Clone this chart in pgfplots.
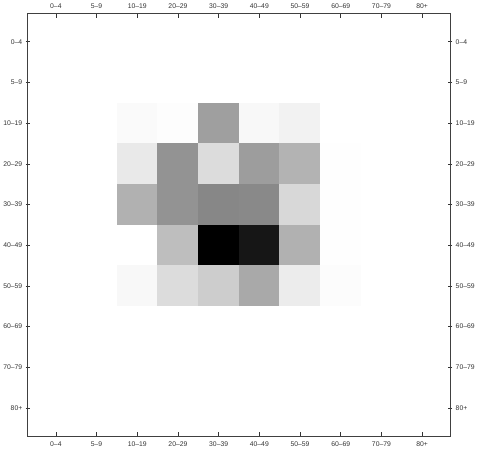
\documentclass[border=0pt]{standalone}
\usepackage{pgfplots}
\pgfplotsset{compat=1.18}
\usepackage{fontspec}
\setmainfont{Liberation Sans}
\begin{document}
\begin{tikzpicture}
\pgfplotsset{
  common/.style={
    width=422pt, height=422pt, scale only axis,
    xmin=-0.69, xmax=9.69, ymin=-0.69, ymax=9.69,
    y dir=reverse,
    xtick={0,...,9}, ytick={0,...,9},
    xticklabels={0–4,5–9,10–19,20–29,30–39,40–49,50–59,60–69,70–79,80+},
    yticklabels={0–4,5–9,10–19,20–29,30–39,40–49,50–59,60–69,70–79,80+},
    tick style={black!80, line width=0.6pt},
    major tick length=4pt,
    axis line style={black!75, line width=0.9pt},
    tick label style={font=\fontsize{6.8}{8}\selectfont, text=black!80},
    /pgf/number format/assume math mode=true,
    xtick align=inside, ytick align=center,
    xticklabel shift=2pt,
  }
}
\begin{axis}[common,
  xtick pos=both, ytick pos=both,
  xticklabel pos=bottom, yticklabel pos=left,
  colormap={bw}{rgb255(0cm)=(255,255,255); rgb255(1cm)=(0,0,0)},
  point meta min=0, point meta max=255,
]
\addplot[matrix plot*, mesh/cols=10, point meta=explicit] table[meta=c] {
x y c
0 0 0
1 0 0
2 0 0
3 0 0
4 0 0
5 0 0
6 0 0
7 0 0
8 0 0
9 0 0
0 1 0
1 1 0
2 1 0
3 1 0
4 1 0
5 1 0
6 1 0
7 1 0
8 1 0
9 1 0
0 2 0
1 2 0
2 2 5
3 2 2
4 2 95
5 2 7
6 2 13
7 2 0
8 2 0
9 2 0
0 3 0
1 3 0
2 3 22
3 3 107
4 3 35
5 3 97
6 3 75
7 3 1
8 3 0
9 3 0
0 4 0
1 4 0
2 4 77
3 4 107
4 4 119
5 4 117
6 4 39
7 4 1
8 4 0
9 4 0
0 5 0
1 5 0
2 5 0
3 5 65
4 5 255
5 5 231
6 5 77
7 5 1
8 5 0
9 5 0
0 6 0
1 6 0
2 6 7
3 6 35
4 6 50
5 6 85
6 6 19
7 6 3
8 6 0
9 6 0
0 7 0
1 7 0
2 7 0
3 7 0
4 7 0
5 7 0
6 7 0
7 7 0
8 7 0
9 7 0
0 8 0
1 8 0
2 8 0
3 8 0
4 8 0
5 8 0
6 8 0
7 8 0
8 8 0
9 8 0
0 9 0
1 9 0
2 9 0
3 9 0
4 9 0
5 9 0
6 9 0
7 9 0
8 9 0
9 9 0
};
\end{axis}
\begin{axis}[common,
  xtick pos=both, ytick pos=both,
  xticklabel pos=top, yticklabel pos=right,
  axis background/.style={fill=none},
]
\addplot[draw=none] coordinates {(0,0)};
\end{axis}
\end{tikzpicture}
\end{document}
